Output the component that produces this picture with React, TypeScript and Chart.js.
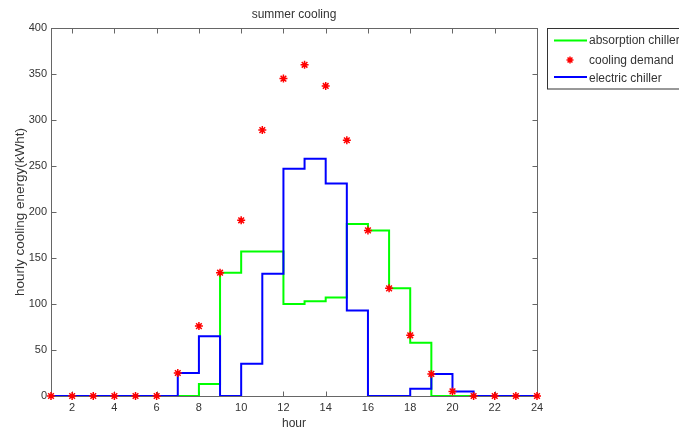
import { useEffect, useRef } from "react";
import { Chart, registerables } from "chart.js";

Chart.register(...registerables);

const hours = [1, 2, 3, 4, 5, 6, 7, 8, 9, 10, 11, 12, 13, 14, 15, 16, 17, 18, 19, 20, 21, 22, 23, 24];
const absorptionChiller = [0, 0, 0, 0, 0, 0, 0, 13, 134, 157, 157, 100, 103, 107, 187, 180, 117, 58, 0, 0, 0, 0, 0, 0];
const coolingDemand = [0, 0, 0, 0, 0, 0, 25, 76, 134, 191, 289, 345, 360, 337, 278, 180, 117, 66, 24, 5, 0, 0, 0, 0];
const electricChiller = [0, 0, 0, 0, 0, 0, 25, 65, 0, 35, 133, 247, 258, 231, 93, 0, 0, 8, 24, 5, 0, 0, 0, 0];
const xTicks = [2, 4, 6, 8, 10, 12, 14, 16, 18, 20, 22, 24];
const yTicks = [0, 50, 100, 150, 200, 250, 300, 350, 400];
const seriesLabels = ["absorption chiller", "cooling demand", "electric chiller"];
const titleText = "summer cooling";
const xTitle = "hour";
const yTitle = "hourly cooling energy(kWht)";

const FONT = "'Liberation Sans', Arial, sans-serif";
const TEXT = "#333333";
const AXIS = "#666666";
const GREEN = "#00ff00";
const BLUE = "#0000ff";
const RED = "#ff0000";

function drawStar(ctx: CanvasRenderingContext2D, x: number, y: number, r: number) {
  ctx.beginPath();
  ctx.moveTo(x - r, y);
  ctx.lineTo(x + r, y);
  ctx.moveTo(x, y - r);
  ctx.lineTo(x, y + r);
  const d = r * 0.7;
  ctx.moveTo(x - d, y - d);
  ctx.lineTo(x + d, y + d);
  ctx.moveTo(x - d, y + d);
  ctx.lineTo(x + d, y - d);
  ctx.stroke();
}

const boxPlugin = {
  id: "matlabBox",
  beforeDatasetsDraw(chart: any) {
    const { ctx, chartArea } = chart;
    const xs = chart.scales.x;
    const ys = chart.scales.y;
    const l = Math.round(chartArea.left) + 0.5;
    const r = Math.round(chartArea.right) + 0.5;
    const t = Math.round(chartArea.top) + 0.5;
    const b = Math.round(chartArea.bottom) + 0.5;
    ctx.save();
    ctx.strokeStyle = AXIS;
    ctx.lineWidth = 1;
    ctx.strokeRect(l, t, r - l, b - t);
    const tl = 5;
    ctx.beginPath();
    xTicks.forEach((v) => {
      const px = Math.round(xs.getPixelForValue(v)) + 0.5;
      ctx.moveTo(px, b);
      ctx.lineTo(px, b - tl);
      ctx.moveTo(px, t);
      ctx.lineTo(px, t + tl);
    });
    yTicks.forEach((v) => {
      const py = Math.round(ys.getPixelForValue(v)) + 0.5;
      ctx.moveTo(l, py);
      ctx.lineTo(l + tl, py);
      ctx.moveTo(r, py);
      ctx.lineTo(r - tl, py);
    });
    ctx.stroke();
    ctx.restore();
  },
  afterDraw(chart: any) {
    const { ctx } = chart;
    ctx.save();
    ctx.fillStyle = "#ffffff";
    ctx.strokeStyle = "#333333";
    ctx.lineWidth = 1;
    ctx.fillRect(547.5, 28.5, 200, 60.5);
    ctx.strokeRect(547.5, 28.5, 200, 60.5);
    ctx.lineWidth = 2;
    ctx.strokeStyle = GREEN;
    ctx.beginPath();
    ctx.moveTo(554, 40.5);
    ctx.lineTo(587, 40.5);
    ctx.stroke();
    ctx.strokeStyle = RED;
    ctx.lineWidth = 1.5;
    drawStar(ctx, 570, 60, 3.5);
    ctx.strokeStyle = BLUE;
    ctx.lineWidth = 2;
    ctx.beginPath();
    ctx.moveTo(554, 77);
    ctx.lineTo(587, 77);
    ctx.stroke();
    ctx.fillStyle = TEXT;
    ctx.font = `12px ${FONT}`;
    ctx.textBaseline = "middle";
    ctx.textAlign = "left";
    ctx.fillText(seriesLabels[0], 589, 41);
    ctx.fillText(seriesLabels[1], 589, 61);
    ctx.fillText(seriesLabels[2], 589, 79);
    ctx.restore();
  },
};

export default function App() {
  const ref = useRef<HTMLCanvasElement | null>(null);
  useEffect(() => {
    if (!ref.current) return;
    const toXY = (vals: number[]) => hours.map((h, i) => ({ x: h, y: vals[i] }));
    const chart = new Chart(ref.current, {
      type: "line",
      data: {
        datasets: [
          {
            label: seriesLabels[0],
            data: toXY(absorptionChiller),
            borderColor: GREEN,
            backgroundColor: GREEN,
            borderWidth: 2,
            stepped: "before",
            pointRadius: 0,
            fill: false,
            order: 2,
          },
          {
            label: seriesLabels[1],
            data: toXY(coolingDemand),
            borderColor: RED,
            backgroundColor: RED,
            showLine: false,
            pointStyle: "star",
            pointRadius: 4,
            pointBorderWidth: 1.5,
            clip: false,
            order: 0,
          },
          {
            label: seriesLabels[2],
            data: toXY(electricChiller),
            borderColor: BLUE,
            backgroundColor: BLUE,
            borderWidth: 2,
            stepped: "before",
            pointRadius: 0,
            fill: false,
            order: 1,
          },
        ] as any,
      },
      options: {
        responsive: false,
        animation: false,
        devicePixelRatio: 1,
        layout: { padding: { left: 0, right: 142, top: 0, bottom: 0 } },
        plugins: {
          legend: { display: false },
          tooltip: { enabled: false },
          title: {
            display: true,
            text: titleText,
            fullSize: false,
            color: TEXT,
            font: { family: FONT, size: 12, weight: "normal", lineHeight: 1.2 },
            padding: { top: 7, bottom: 6.6 },
          },
        },
        scales: {
          x: {
            type: "linear",
            min: 1,
            max: 24,
            grid: { display: false, drawTicks: false },
            border: { display: false },
            afterBuildTicks: (s: any) => {
              s.ticks = xTicks.map((v) => ({ value: v }));
            },
            afterFit: (s: any) => {
              s.height = 38;
            },
            ticks: {
              color: TEXT,
              font: { family: FONT, size: 11 },
              padding: 5,
              maxRotation: 0,
              autoSkip: false,
            },
            title: {
              display: true,
              text: xTitle,
              color: TEXT,
              font: { family: FONT, size: 12, lineHeight: 1.2 },
              padding: { top: 0, bottom: 3 },
            },
          },
          y: {
            type: "linear",
            min: 0,
            max: 400,
            grid: { display: false, drawTicks: false },
            border: { display: false },
            afterBuildTicks: (s: any) => {
              s.ticks = yTicks.map((v) => ({ value: v }));
            },
            afterFit: (s: any) => {
              s.width = 51;
            },
            ticks: {
              color: TEXT,
              font: { family: FONT, size: 11 },
              padding: 4,
              autoSkip: false,
            },
            title: {
              display: true,
              text: yTitle,
              color: TEXT,
              font: { family: FONT, size: 13.5, lineHeight: 1.2 },
              padding: { top: 12, bottom: 0 },
            },
          },
        },
      } as any,
      plugins: [boxPlugin],
    });
    return () => chart.destroy();
  }, []);
  return (
    <div style={{ position: "absolute", left: 0, top: 0, width: 679, height: 434, background: "#ffffff" }}>
      <canvas ref={ref} width={679} height={434} />
    </div>
  );
}
